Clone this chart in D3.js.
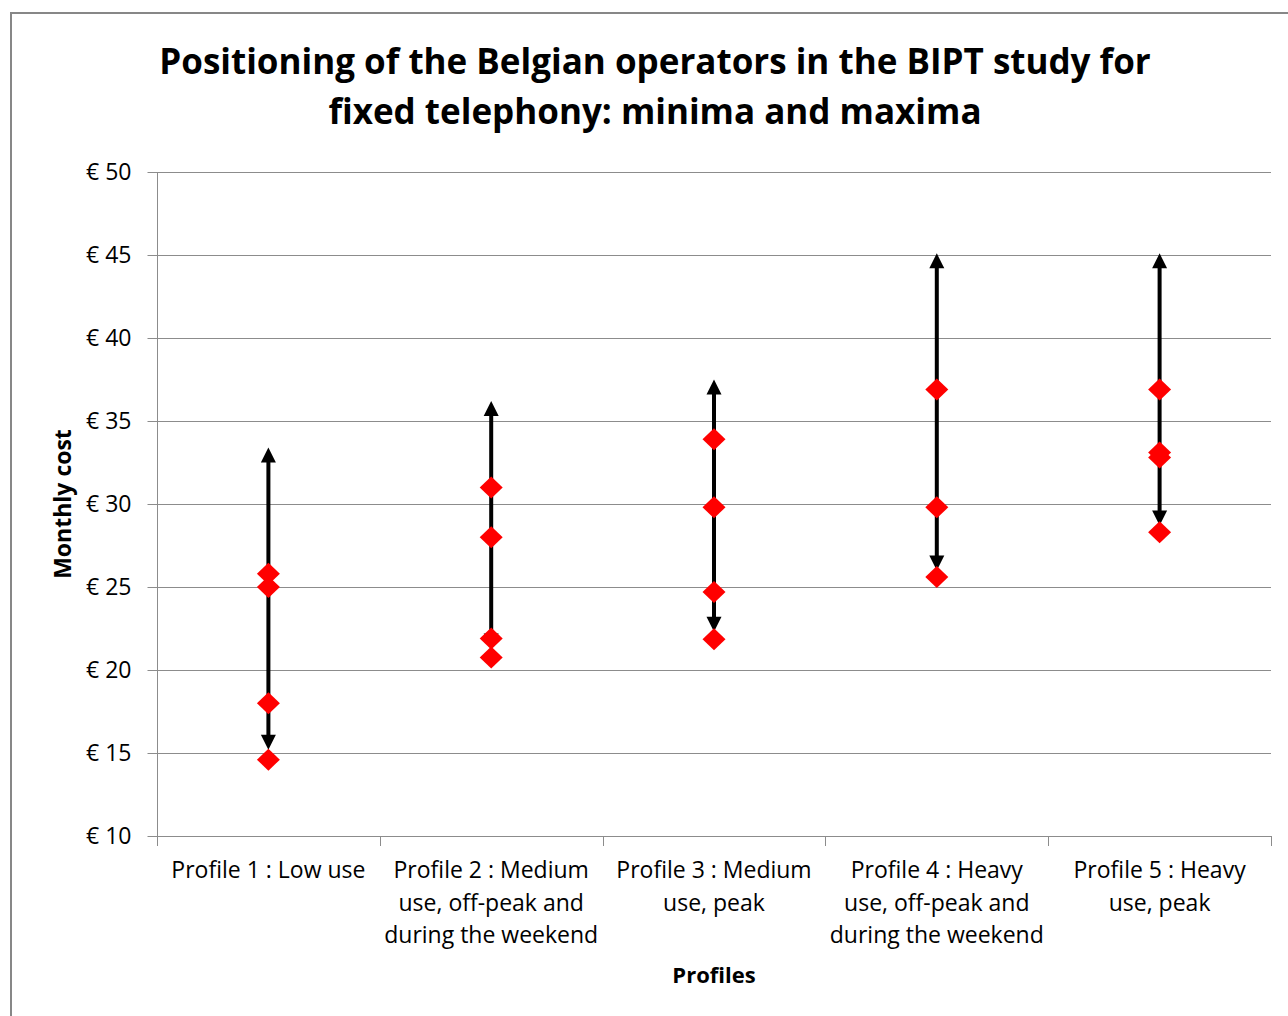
<!DOCTYPE html>
<html>
<head>
<meta charset="utf-8">
<script src="https://cdn.jsdelivr.net/npm/d3@7"></script>
<style>
  html, body { margin: 0; padding: 0; background: #fff; }
  svg { display: block; }
</style>
</head>
<body>
<svg id="chart" width="1288" height="1016"></svg>
<script>
// Profiles along the x axis (line breaks mark the wrapped label lines)
const profiles = [
  "Profile 1 : Low use",
  "Profile 2 : Medium\nuse, off-peak and\nduring the weekend",
  "Profile 3 : Medium\nuse, peak",
  "Profile 4 : Heavy\nuse, off-peak and\nduring the weekend",
  "Profile 5 : Heavy\nuse, peak"
];

// Range of monthly cost over all operators in the study (arrow ends)
const rangeMin = [15.2, 21.3, 22.3, 26.0, 28.7];
const rangeMax = [33.4, 36.2, 37.5, 45.1, 45.1];

// Belgian operators' monthly cost per profile (red diamonds)
const belgianCosts = [
  [25.8, 25.0, 18.0, 14.6],
  [31.0, 28.0, 21.9, 20.75],
  [33.9, 29.8, 24.7, 21.85],
  [36.9, 29.8, 25.6],
  [36.9, 33.1, 32.8, 28.3]
];

// Y axis ticks
const yTicks = [10, 15, 20, 25, 30, 35, 40, 45, 50];

const titleLines = [
  "Positioning of the Belgian operators in the BIPT study for",
  "fixed telephony: minima and maxima"
];

const svg = d3.select("#chart");
const FONT = "'Open Sans', 'Noto Sans', sans-serif";

// Outer chart frame
svg.append("rect")
  .attr("x", 11).attr("y", 13)
  .attr("width", 1300).attr("height", 1030)
  .attr("fill", "#fff")
  .attr("stroke", "#878787")
  .attr("stroke-width", 2);

const plot = { left: 157, right: 1271, top: 172, bottom: 836 };

const x = d3.scaleBand()
  .domain(profiles)
  .range([plot.left, plot.right])
  .padding(0);

const y = d3.scaleLinear()
  .domain([10, 50])
  .range([plot.bottom, plot.top]);

// Title
svg.append("g").selectAll("text")
  .data(titleLines)
  .join("text")
  .attr("x", 655)
  .attr("y", (d, i) => 74 + i * 50)
  .attr("text-anchor", "middle")
  .attr("font-family", FONT)
  .attr("font-weight", "bold")
  .attr("font-size", 35)
  .attr("fill", "#000")
  .text(d => d);

// Horizontal gridlines
svg.append("g").selectAll("line")
  .data(yTicks.filter(t => t > 10))
  .join("line")
  .attr("x1", plot.left).attr("x2", plot.right)
  .attr("y1", d => Math.round(y(d)) + 0.5)
  .attr("y2", d => Math.round(y(d)) + 0.5)
  .attr("stroke", "#8c8c8c")
  .attr("stroke-width", 1);

// Y axis
const yAxis = svg.append("g")
  .attr("transform", `translate(${plot.left + 0.5},0)`)
  .call(d3.axisLeft(y)
    .tickValues(yTicks)
    .tickSize(10)
    .tickPadding(16)
    .tickFormat(d => "€ " + d));
yAxis.select(".domain").attr("stroke", "#8c8c8c").attr("d", `M0,${plot.top}V${plot.bottom}`);
yAxis.selectAll(".tick line").attr("stroke", "#8c8c8c");
yAxis.selectAll(".tick text")
  .attr("font-family", FONT)
  .attr("font-size", 23)
  .attr("fill", "#000");

// X axis line and category boundary ticks
const xAxis = svg.append("g");
xAxis.append("line")
  .attr("x1", plot.left).attr("x2", plot.right)
  .attr("y1", plot.bottom + 0.5).attr("y2", plot.bottom + 0.5)
  .attr("stroke", "#8c8c8c");
const bounds = profiles.map(p => x(p)).concat([x(profiles[profiles.length - 1]) + x.bandwidth()]);
xAxis.selectAll("line.bound")
  .data(bounds)
  .join("line")
  .attr("class", "bound")
  .attr("x1", d => Math.round(d) + 0.5).attr("x2", d => Math.round(d) + 0.5)
  .attr("y1", plot.bottom).attr("y2", plot.bottom + 10)
  .attr("stroke", "#8c8c8c");

// Category labels
xAxis.selectAll("text.cat")
  .data(profiles)
  .join("text")
  .attr("class", "cat")
  .attr("font-family", FONT)
  .attr("font-size", 23)
  .attr("fill", "#000")
  .attr("text-anchor", "middle")
  .each(function (d) {
    const t = d3.select(this);
    d.split("\n").forEach((line, i) => {
      t.append("tspan")
        .attr("x", x(d) + x.bandwidth() / 2)
        .attr("y", 878 + i * 32.5)
        .text(line);
    });
  });

// Axis titles
svg.append("text")
  .attr("x", (plot.left + plot.right) / 2)
  .attr("y", 983)
  .attr("text-anchor", "middle")
  .attr("font-family", FONT)
  .attr("font-weight", "bold")
  .attr("font-size", 22)
  .text("Profiles");

svg.append("text")
  .attr("transform", `translate(71,${(plot.top + plot.bottom) / 2}) rotate(-90)`)
  .attr("text-anchor", "middle")
  .attr("font-family", FONT)
  .attr("font-weight", "bold")
  .attr("font-size", 23)
  .text("Monthly cost");

// Range arrows (min to max over all operators)
const head = 15, halfW = 7.5;
const arrows = svg.append("g");
profiles.forEach((p, i) => {
  const cx = x(p) + x.bandwidth() / 2;
  const yTop = y(rangeMax[i]);
  const yBot = y(rangeMin[i]);
  arrows.append("line")
    .attr("x1", cx).attr("x2", cx)
    .attr("y1", yTop + head - 1).attr("y2", yBot - head + 1)
    .attr("stroke", "#000")
    .attr("stroke-width", 4);
  arrows.append("path")
    .attr("d", `M${cx},${yTop}L${cx + halfW},${yTop + head}L${cx - halfW},${yTop + head}Z`)
    .attr("fill", "#000");
  arrows.append("path")
    .attr("d", `M${cx},${yBot}L${cx + halfW},${yBot - head}L${cx - halfW},${yBot - head}Z`)
    .attr("fill", "#000");
});

// Belgian operators' markers
const dw = 11.5, dh = 11;
const diamonds = svg.append("g");
profiles.forEach((p, i) => {
  const cx = x(p) + x.bandwidth() / 2;
  diamonds.selectAll(null)
    .data(belgianCosts[i])
    .join("path")
    .attr("d", v => {
      const cy = y(v);
      return `M${cx},${cy - dh}L${cx + dw},${cy}L${cx},${cy + dh}L${cx - dw},${cy}Z`;
    })
    .attr("fill", "#ff0000");
});
</script>
</body>
</html>
